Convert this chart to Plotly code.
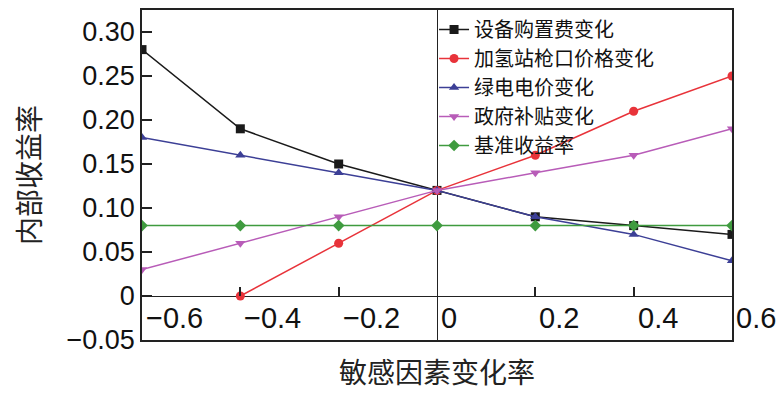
import plotly.graph_objects as go

# ---- data ----
x_change = [-0.6, -0.4, -0.2, 0.0, 0.2, 0.4, 0.6]
equip_cost = [0.28, 0.19, 0.15, 0.12, 0.09, 0.08, 0.07]
h2_price = [None, 0.00, 0.06, 0.12, 0.16, 0.21, 0.25]
green_power = [0.18, 0.16, 0.14, 0.12, 0.09, 0.07, 0.04]
subsidy = [0.03, 0.06, 0.09, 0.12, 0.14, 0.16, 0.19]
benchmark = [0.08, 0.08, 0.08, 0.08, 0.08, 0.08, 0.08]

series_names = ["设备购置费变化", "加氢站枪口价格变化", "绿电电价变化", "政府补贴变化", "基准收益率"]
y_tickvals = [-0.05, 0.0, 0.05, 0.10, 0.15, 0.20, 0.25, 0.30]
y_ticktext = ["\u22120.05", "0", "0.05", "0.10", "0.15", "0.20", "0.25", "0.30"]
x_label_vals = [-0.6, -0.4, -0.2, 0.0, 0.2, 0.4, 0.6]
x_label_text = ["\u22120.6", "\u22120.4", "\u22120.2", "0", "0.2", "0.4", "0.6"]
x_inner_ticks = [-0.4, -0.2, 0.2, 0.4]

NUM_FONT = "Liberation Sans, Arial, sans-serif"
CJK_FONT = "Noto Sans CJK SC, sans-serif"

styles = [
    ("#1a1a1a", "square", equip_cost),
    ("#e8333a", "circle", h2_price),
    ("#3c3f96", "triangle-up", green_power),
    ("#b85cb8", "triangle-down", subsidy),
    ("#3f9b3f", "diamond", benchmark),
]

fig = go.Figure()
for name, (color, symbol, vals) in zip(series_names, styles):
    fig.add_trace(go.Scatter(
        x=x_change, y=vals, name=name, mode="lines+markers",
        line=dict(color=color, width=1.5),
        marker=dict(color=color, symbol=symbol, size=9),
    ))

# helper trace so the inner tick axis is drawn
fig.add_trace(go.Scatter(
    x=x_change, y=benchmark, xaxis="x2", yaxis="y", mode="lines",
    line=dict(width=0), opacity=0, showlegend=False, hoverinfo="skip",
))

y_min, y_max = -0.05, 0.325
zero_frac = (0 - y_min) / (y_max - y_min)

for v, t in zip(x_label_vals, x_label_text):
    fig.add_annotation(
        x=v, y=0, xref="x", yref="y", text=t, showarrow=False,
        xanchor="left", yanchor="top", xshift=2, yshift=-4,
        font=dict(family=NUM_FONT, size=29, color="#111"),
    )

fig.update_layout(
    width=784, height=394, autosize=False,
    margin=dict(l=134, r=60, t=0, b=62),
    paper_bgcolor="white", plot_bgcolor="white",
    showlegend=True,
    legend=dict(
        x=0.495, y=1.0, xanchor="left", yanchor="top",
        bgcolor="rgba(0,0,0,0)", borderwidth=0,
        font=dict(family=CJK_FONT, size=20, color="#111"),
        tracegroupgap=0,
    ),
    xaxis=dict(
        range=[-0.6, 0.6], showline=True, mirror=True, linecolor="#222",
        linewidth=1.5, ticks="", showticklabels=False, showgrid=False,
        zeroline=True, zerolinecolor="#222", zerolinewidth=1.2,
        title=dict(text="敏感因素变化率", font=dict(family=CJK_FONT, size=28, color="#222"),
                   standoff=23),
    ),
    xaxis2=dict(
        overlaying="x", anchor="free", position=zero_frac, side="bottom",
        range=[-0.6, 0.6], tickvals=x_inner_ticks, ticks="inside", ticklen=9,
        tickwidth=1.5, tickcolor="#222", showticklabels=False, showgrid=False,
        zeroline=False, showline=False,
    ),
    yaxis=dict(
        range=[y_min, y_max], showline=True, mirror=True, linecolor="#222",
        linewidth=1.5, tickvals=y_tickvals, ticktext=y_ticktext,
        ticks="inside", ticklen=10, tickwidth=1.5, tickcolor="#222",
        tickfont=dict(family=NUM_FONT, size=27, color="#111"),
        showgrid=False, zeroline=True, zerolinecolor="#222", zerolinewidth=1.2,
        title=dict(text="内部收益率", font=dict(family=CJK_FONT, size=28, color="#222"),
                   standoff=33),
    ),
)

fig.write_html("out.html")
